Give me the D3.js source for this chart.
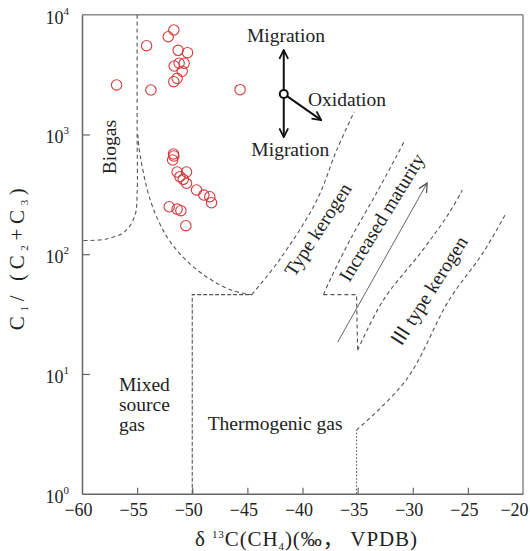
<!DOCTYPE html>
<html><head><meta charset="utf-8">
<script src="https://cdn.jsdelivr.net/npm/d3@7"></script>
<style>
html,body{margin:0;padding:0;background:#fff;}
svg text{font-family:"Liberation Serif","Times New Roman","Noto Sans CJK SC",serif;fill:#222;}
</style></head>
<body><svg id="c" width="530" height="551"></svg>
<script>
// ---- data ----
const xTicks = [-60,-55,-50,-45,-40,-35,-30,-25,-20];
const yTicks = [1,10,100,1000,10000];
const yTickExp = ["0","1","2","3","4"];
const sampleD13C = [-51.67,-52.18,-54.14,-51.28,-50.43,-51.64,-51.19,-50.73,-50.91,-51.37,-51.67,-56.86,-53.75,-45.66,
  -51.70,-51.67,-51.78,-51.37,-50.52,-51.12,-50.82,-50.52,-49.61,-48.95,-48.41,-48.25,-52.09,-51.37,-51.03,-50.58];
const sampleRatio = [7450,6550,5510,5040,4820,3730,3930,3930,3370,2940,2760,2590,2350,2365,
  687,661,612,486,486,444,422,391,344,312,302,269,249,238,231,173];
// zone boundaries [δ13C, C1/(C2+C3)]
const biogasLeft = [[-55,10000],[-55,1000],[-55,320],[-55.2,210],[-56.1,155],[-57.8,134],[-60,130]];
const biogasRight = [[-54.93,1000],[-54.8,740],[-53.8,282],[-52.3,140],[-50.5,88],[-48.4,62],[-46.3,49.5],[-44.6,46]];
const thermoBox = [[-50,1],[-50,46],[-44.6,46]];
const kerogen1 = [[-44.6,46],[-42,92],[-38.7,282],[-36.9,740],[-35.3,1550]];
const kerogen2 = [[-38.1,46],[-37.5,61],[-35.7,131],[-33.3,323],[-31.5,652],[-30.7,900]];
const kerogen2Step = [[-38.1,46],[-35.1,46],[-35,15.8]];
const kerogen3 = [[-35,15.8],[-32.7,41],[-29.1,108],[-26.7,221],[-25.5,343]];
const kerogen4Dot = [[-35.1,1],[-35.1,3.4]];
const kerogen4 = [[-35.1,3.4],[-30.6,8.9],[-26.7,41.5],[-23.65,102],[-21.6,215]];
const migrationUp = [[-41.7,2180],[-41.7,5070]];
const migrationDown = [[-41.7,2180],[-41.7,950]];
const oxidation = [[-41.7,2180],[-38.3,1318]];
const maturityArrow = [[-36.8,18.5],[-28.7,392]];

// ---- layout ----
const W=530,H=551, m={l:82,r:7,t:14.7,b:57.3};
const svg=d3.select("#c");
const x=d3.scaleLinear().domain([-60,-20]).range([m.l,W-m.r]);
const y=d3.scaleLog().domain([1,10000]).range([H-m.b,m.t]);

const defs=svg.append("defs");
function chev(id,color,w,size){
  defs.append("marker").attr("id",id).attr("viewBox","0 0 10 10").attr("refX",9).attr("refY",5)
   .attr("markerWidth",size).attr("markerHeight",size).attr("markerUnits","userSpaceOnUse").attr("orient","auto")
   .append("path").attr("d","M1,1 L9,5 L1,9").attr("fill","none").attr("stroke",color).attr("stroke-width",w);
}
chev("ab","#111",1.6,11);
chev("ag","#555",1.2,11);

// frame
svg.append("line").attr("x1",x(-60)).attr("x2",x(-20)).attr("y1",y(10000)).attr("y2",y(10000)).attr("stroke","#8a8a8a").attr("stroke-width",1.5);
svg.append("line").attr("x1",x(-20)).attr("x2",x(-20)).attr("y1",y(10000)).attr("y2",y(1)).attr("stroke","#8a8a8a").attr("stroke-width",1.5);

// axes
const xAxis=d3.axisBottom(x).tickValues(xTicks).tickSizeInner(-6).tickSizeOuter(0).tickFormat(d=>d3.format("d")(d).replace("-","\u2212"));
const gx=svg.append("g").attr("transform",`translate(0,${y(1)})`).call(xAxis).attr("font-family",null).attr("font-size",null);
gx.select(".domain").attr("stroke","#666").attr("stroke-width",1.5);
gx.selectAll(".tick line").attr("stroke","#666").attr("stroke-width",1.2);
gx.selectAll(".tick").filter(d=>d===-60||d===-20).select("line").remove();
gx.selectAll(".tick text").attr("y",10).attr("dx",d=>d===-20?-9:-4).attr("font-size",18).attr("fill","#222");

const yAxis=d3.axisLeft(y).tickValues(yTicks).tickSizeInner(-8).tickSizeOuter(0).tickFormat(()=> "");
const gy=svg.append("g").attr("transform",`translate(${x(-60)},0)`).call(yAxis);
gy.select(".domain").attr("stroke","#666").attr("stroke-width",1.5);
gy.selectAll(".tick line").attr("stroke","#666").attr("stroke-width",1.2);
gy.selectAll(".tick").filter(d=>d===1||d===10000).select("line").remove();
gy.selectAll(".tick text").remove();
yTicks.forEach((v,i)=>{
  const t=svg.append("text").attr("x",x(-60)-13).attr("y",y(v)+9).attr("text-anchor","end").attr("font-size",18);
  t.append("tspan").text("10");
  t.append("tspan").attr("font-size",11).attr("dy",-9).text(yTickExp[i]);
});

// axis titles
const xt=svg.append("text").attr("x",306).attr("y",546).attr("text-anchor","middle").attr("font-size",21)
  .attr("textLength",222).attr("lengthAdjust","spacing");
xt.append("tspan").text("δ ");
xt.append("tspan").attr("font-size",11).attr("dy",-8).text("13");
xt.append("tspan").attr("dy",8).text("C(CH");
xt.append("tspan").attr("font-size",11).attr("dy",4).text("4");
xt.append("tspan").attr("dy",-4).text(")(‰，  VPDB)");

const yt=svg.append("text").attr("transform",`translate(24,${(y(1)+y(10000))/2+5}) rotate(-90)`).attr("text-anchor","middle").attr("font-size",21)
  .attr("textLength",142).attr("lengthAdjust","spacing");
yt.append("tspan").text("C");
yt.append("tspan").attr("font-size",11).attr("dy",4).text("1");
yt.append("tspan").attr("dy",-4).text("/ (C");
yt.append("tspan").attr("font-size",11).attr("dy",4).text("2");
yt.append("tspan").attr("dy",-4).text("+C");
yt.append("tspan").attr("font-size",11).attr("dy",4).text("3");
yt.append("tspan").attr("dy",-4).text(")");

// boundaries
const line=d3.line().x(d=>x(d[0])).y(d=>y(d[1]));
const curve=d3.line().x(d=>x(d[0])).y(d=>y(d[1])).curve(d3.curveCatmullRom.alpha(0.5));
function dash(data,c,da){
  svg.append("path").attr("d",(c?curve:line)(data)).attr("fill","none").attr("stroke","#555").attr("stroke-width",1.1).attr("stroke-dasharray",da||"4,3");
}
dash(biogasLeft,true);
dash(biogasRight,true);
dash(thermoBox,false,"4,2");
dash(kerogen1,true);
dash(kerogen2,true);
dash(kerogen2Step,false);
dash(kerogen3,true);
dash(kerogen4Dot,false,"1.5,2");
dash(kerogen4,true);

// migration / oxidation
[migrationUp,migrationDown,oxidation].forEach(a=>{
  svg.append("path").attr("d",line(a)).attr("stroke","#111").attr("stroke-width",2).attr("fill","none").attr("marker-end","url(#ab)");
});
svg.append("circle").attr("cx",x(migrationUp[0][0])).attr("cy",y(migrationUp[0][1])).attr("r",4).attr("fill","#fff").attr("stroke","#111").attr("stroke-width",2);
svg.append("path").attr("d",line(maturityArrow)).attr("stroke","#666").attr("stroke-width",1).attr("fill","none").attr("marker-end","url(#ag)");

// samples
svg.append("g").selectAll("circle").data(sampleD13C).join("circle")
  .attr("cx",d=>x(d)).attr("cy",(d,i)=>y(sampleRatio[i])).attr("r",5.2)
  .attr("fill","none").attr("stroke","#d43a3a").attr("stroke-width",1.1);

// labels
function lab(txt,v,c,opt){
  opt=opt||{};
  const t=svg.append("text").attr("font-size",opt.fs||19.5).attr("text-anchor",opt.anchor||"start")
    .attr("transform",`translate(${x(v)},${y(c)}) rotate(${opt.rot||0})`).text(txt);
  return t;
}
lab("Migration",-41.5,5915,{anchor:"middle"});
lab("Migration",-41.1,661,{anchor:"middle"});
lab("Oxidation",-39.5,1730);
lab("Biogas",-56.95,784,{anchor:"middle",rot:-90});
lab("Thermogenic gas",-48.6,3.4);
const mx=svg.append("text").attr("font-size",19.5).attr("transform",`translate(${x(-56.65)},${y(7.2)})`);
["Mixed","source","gas"].forEach((s,i)=>mx.append("tspan").attr("x",0).attr("dy",i?20:0).text(s));
lab("Type kerogen",-38.1,150,{anchor:"middle",rot:-57});
lab("Increased maturity",-32.3,190,{anchor:"middle",rot:-58.5});
lab("Ⅲ  type kerogen",-28.0,46,{anchor:"middle",rot:-57.5});
</script></body></html>
